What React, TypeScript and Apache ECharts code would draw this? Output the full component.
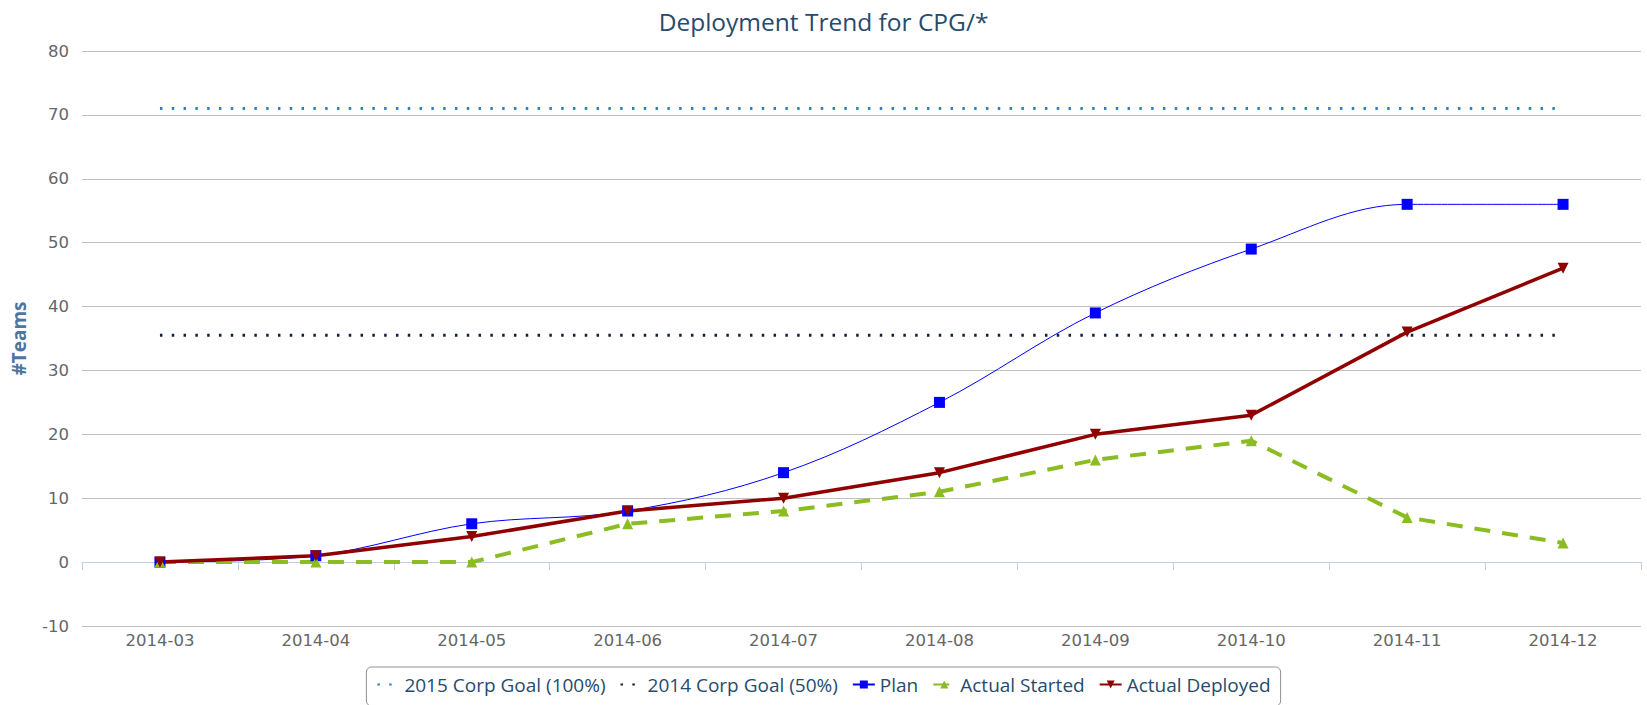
import React, { useEffect, useRef } from "react";
import * as echarts from "echarts";

const categories = ["2014-03", "2014-04", "2014-05", "2014-06", "2014-07", "2014-08", "2014-09", "2014-10", "2014-11", "2014-12"];
const goal2015 = [71, 71, 71, 71, 71, 71, 71, 71, 71, 71];
const goal2014 = [35.5, 35.5, 35.5, 35.5, 35.5, 35.5, 35.5, 35.5, 35.5, 35.5];
const plan = [0, 1, 6, 8, 14, 25, 39, 49, 56, 56];
const actualStarted = [0, 0, 0, 6, 8, 11, 16, 19, 7, 3];
const actualDeployed = [0, 1, 4, 8, 10, 14, 20, 23, 36, 46];
const yTicks = { min: -10, max: 80, interval: 10 };

const FONT = "'Open Sans', 'DejaVu Sans', sans-serif";
const AXIS_FONT = "'DejaVu Sans', sans-serif";

export default function App() {
  const ref = useRef<HTMLDivElement>(null);
  useEffect(() => {
    if (!ref.current) return;
    const chart = echarts.init(ref.current, null, { renderer: "svg" });
    chart.setOption({
      animation: false,
      textStyle: { fontFamily: FONT },
      title: {
        text: "Deployment Trend for CPG/*",
        left: "center",
        top: 4,
        textStyle: { color: "#274b6d", fontSize: 24.5, fontWeight: "normal", fontFamily: FONT },
      },
      grid: { left: 82, right: 6, top: 51, bottom: 79, containLabel: false },
      legend: {
        left: "center",
        top: 667,
        borderColor: "#909090",
        borderWidth: 1,
        borderRadius: 5,
        padding: [8, 10, 12, 10],
        itemGap: 14,
        itemWidth: 22,
        itemHeight: 10,
        textStyle: { color: "#274b6d", fontSize: 19, fontFamily: FONT },
        data: [
          { name: "2015 Corp Goal (100%)", itemStyle: { opacity: 0 } },
          { name: "2014 Corp Goal (50%)", itemStyle: { opacity: 0 } },
          "Plan",
          "Actual Started",
          "Actual Deployed",
        ],
      },
      xAxis: {
        type: "category",
        data: categories,
        boundaryGap: true,
        axisLine: { lineStyle: { color: "#C0D0E0", width: 1 } },
        axisTick: { show: true, length: 8, lineStyle: { color: "#C0D0E0" } },
        axisLabel: { color: "#666666", fontSize: 16.5, margin: 6, fontFamily: AXIS_FONT },
        splitLine: { show: false },
      },
      yAxis: {
        type: "value",
        min: yTicks.min,
        max: yTicks.max,
        interval: yTicks.interval,
        name: "#Teams",
        nameLocation: "middle",
        nameGap: 54,
        nameTextStyle: { color: "#4d759e", fontWeight: "bold", fontSize: 19, fontFamily: FONT },
        axisLine: { show: false },
        axisTick: { show: false },
        axisLabel: { color: "#666666", fontSize: 16.5, margin: 13, fontFamily: AXIS_FONT },
        splitLine: { lineStyle: { color: "#C0C0C0", width: 1 } },
      },
      series: [
        {
          name: "2015 Corp Goal (100%)",
          type: "line",
          data: goal2015,
          symbol: "none",
          itemStyle: { color: "#2f7ed8" },
          lineStyle: { color: "#2f7ed8", width: 3, type: [2.5, 9.3] },
        },
        {
          name: "2014 Corp Goal (50%)",
          type: "line",
          data: goal2014,
          symbol: "none",
          itemStyle: { color: "#0d233a" },
          lineStyle: { color: "#0d233a", width: 3, type: [2.5, 9.3] },
        },
        {
          name: "Plan",
          type: "line",
          data: plan,
          smooth: 0.35,
          symbol: "rect",
          symbolSize: 11,
          itemStyle: { color: "#0000FF" },
          lineStyle: { color: "#0000FF", width: 1 },
        },
        {
          name: "Actual Started",
          type: "line",
          data: actualStarted,
          symbol: "triangle",
          symbolSize: 11,
          itemStyle: { color: "#8bbc21" },
          lineStyle: { color: "#8bbc21", width: 4, type: [16, 12] },
        },
        {
          name: "Actual Deployed",
          type: "line",
          data: actualDeployed,
          symbol: "triangle",
          symbolRotate: 180,
          symbolSize: 11,
          itemStyle: { color: "#910000" },
          lineStyle: { color: "#910000", width: 3.5 },
        },
      ],
    });
    return () => chart.dispose();
  }, []);
  return (
    <div
      ref={ref}
      style={{ position: "fixed", left: 0, top: 0, width: 1647, height: 705, background: "#fff" }}
    />
  );
}
